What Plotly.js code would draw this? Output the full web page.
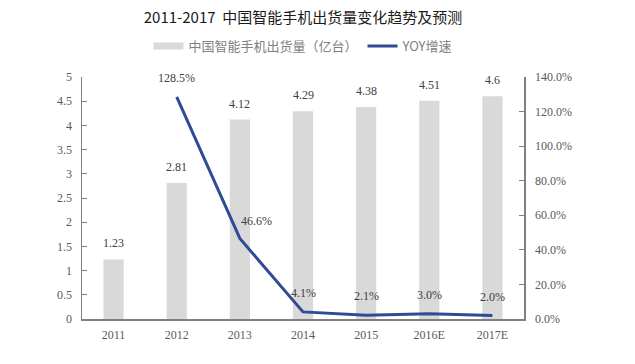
<!DOCTYPE html>
<html>
<head>
<meta charset="utf-8">
<script src="https://cdn.plot.ly/plotly-3.0.1.min.js"></script>
<style>html,body{margin:0;padding:0;background:#fff;}#chart{width:635px;height:364px;}</style>
</head>
<body>
<div id="chart"></div>
<script>
var categories = ["2011", "2012", "2013", "2014", "2015", "2016E", "2017E"];
var shipments = [1.23, 2.81, 4.12, 4.29, 4.38, 4.51, 4.6];
var yoyCategories = ["2012", "2013", "2014", "2015", "2016E", "2017E"];
var yoy = [1.285, 0.466, 0.041, 0.021, 0.030, 0.020];
var yoyLabels = ["128.5%", "46.6%", "4.1%", "2.1%", "3.0%", "2.0%"];
var barName = "中国智能手机出货量（亿台）";
var lineName = "YOY增速";

var serif = "Liberation Serif, Times New Roman, serif";
var cjk = "Noto Sans CJK SC, sans-serif";
var barColor = "#d9d9d9";
var lineColor = "#2f4b94";

var traces = [
  {
    type: "bar",
    name: barName,
    x: categories,
    y: shipments,
    width: 0.32,
    marker: {color: barColor},
    showlegend: false,
    hoverinfo: "skip"
  },
  {
    // legend proxy so the swatch is a wide band like the original
    type: "scatter",
    mode: "lines",
    name: barName,
    x: [null],
    y: [null],
    line: {color: barColor, width: 7},
    hoverinfo: "skip"
  },
  {
    type: "scatter",
    mode: "lines",
    name: lineName,
    x: yoyCategories,
    y: yoy,
    yaxis: "y2",
    line: {color: lineColor, width: 3},
    hoverinfo: "skip"
  }
];

var annotations = [];
categories.forEach(function (c, i) {
  annotations.push({
    x: i, y: shipments[i], xref: "x", yref: "y",
    text: String(shipments[i]), showarrow: false,
    yanchor: "middle", yshift: 16,
    font: {family: serif, size: 12, color: "#404040"}
  });
});
yoyCategories.forEach(function (c, i) {
  var right = (c === "2013");
  annotations.push({
    x: categories.indexOf(c), y: yoy[i], xref: "x", yref: "y2",
    text: yoyLabels[i], showarrow: false,
    yanchor: "middle", xanchor: "center",
    yshift: right ? 17 : 19, xshift: right ? 17 : 0,
    font: {family: serif, size: 12, color: "#404040"}
  });
});

var layout = {
  width: 635,
  height: 364,
  margin: {l: 82, r: 111, t: 77, b: 45},
  paper_bgcolor: "#fff",
  plot_bgcolor: "#fff",
  showlegend: true,
  annotations: annotations,
  title: {
    text: "2011-2017  中国智能手机出货量变化趋势及预测",
    font: {family: cjk, size: 15, color: "#1a1a1a", weight: 400},
    x: 0.5, xref: "paper", xanchor: "center",
    y: 0.95, yanchor: "middle"
  },
  legend: {
    orientation: "h",
    x: 0.5, xanchor: "center",
    y: 1.128, yanchor: "middle",
    font: {family: cjk, size: 13, color: "#7f7f7f"},
    itemwidth: 30,
    bgcolor: "rgba(0,0,0,0)"
  },
  xaxis: {
    type: "category",
    categoryorder: "array",
    categoryarray: categories,
    range: [-0.5, 6.5],
    showline: true,
    linecolor: "#7f7f7f",
    linewidth: 1.5,
    ticks: "",
    ticklabelstandoff: 4,
    showgrid: false,
    tickfont: {family: serif, size: 12, color: "#595959"}
  },
  yaxis: {
    range: [0, 5],
    dtick: 0.5,
    showline: true,
    linecolor: "#7f7f7f",
    linewidth: 1.5,
    ticks: "inside",
    ticklen: 5,
    tickcolor: "#7f7f7f",
    ticklabelstandoff: 6,
    showgrid: false,
    zeroline: false,
    tickfont: {family: serif, size: 12, color: "#595959"}
  },
  yaxis2: {
    overlaying: "y",
    side: "right",
    range: [0, 1.4],
    dtick: 0.2,
    tickformat: ".1%",
    showline: true,
    linecolor: "#7f7f7f",
    linewidth: 1.5,
    ticks: "inside",
    ticklen: 5,
    tickcolor: "#7f7f7f",
    ticklabelstandoff: 7,
    showgrid: false,
    zeroline: false,
    tickfont: {family: serif, size: 12, color: "#595959"}
  }
};

Plotly.newPlot("chart", traces, layout, {displayModeBar: false, staticPlot: true});
</script>
</body>
</html>
